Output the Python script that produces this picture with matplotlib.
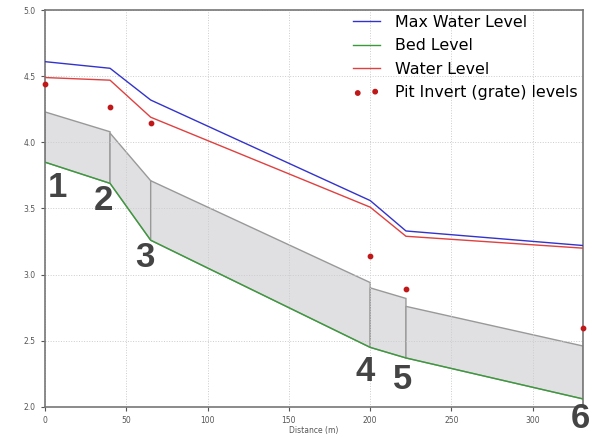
import numpy as np
import matplotlib.pyplot as plt

# Lengdeprofil: vannstand, bunn og rør mellom kummer
node_x = [0, 40, 65, 200, 222, 331]
node_lab = ["1", "2", "3", "4", "5", "6"]
max_wl = [4.61, 4.56, 4.32, 3.56, 3.33, 3.22]
wl = [4.49, 4.47, 4.19, 3.51, 3.29, 3.20]
bed = [3.85, 3.69, 3.26, 2.45, 2.37, 2.06]
pit = [4.44, 4.27, 4.15, 3.14, 2.89, 2.60]

# rørtopp (obvert) oppstrøms / nedstrøms for hvert strekk
top_us = [4.23, 4.07, 3.71, 2.90, 2.76]
top_ds = [4.08, 3.71, 2.94, 2.82, 2.46]

fig = plt.figure(figsize=(5.96, 4.38), dpi=100)
ax = fig.add_axes([0.0755, 0.071, 0.903, 0.906])

for i in range(len(top_us)):
    xs = [node_x[i], node_x[i + 1], node_x[i + 1], node_x[i]]
    ys = [bed[i], bed[i + 1], top_ds[i], top_us[i]]
    ax.fill(xs, ys, facecolor="#e0e0e3", edgecolor="#999999", lw=1.0, zorder=1)

ax.plot(node_x, max_wl, color="#3333cc", lw=1.0, label="Max Water Level", zorder=3)
ax.plot(node_x, bed, color="#3a9a3a", lw=1.0, label="Bed Level", zorder=3)
ax.plot(node_x, wl, color="#e04040", lw=1.0, label="Water Level", zorder=3)
ax.scatter(node_x, pit, s=10, color="#c01818", label="Pit Invert (grate) levels",
           zorder=4, clip_on=False)

# store nummer ved kummene
lab_pos = [(7.4, 3.66), (35.7, 3.56), (61.5, 3.13), (197, 2.27), (220, 2.21), (329, 1.91)]
for (lx, ly), t in zip(lab_pos, node_lab):
    ax.text(lx, ly, t, fontsize=25, fontweight="bold", color="#444444",
            family="Liberation Sans", ha="center", va="center", zorder=5,
            clip_on=False)

ax.set_xlim(0, 331)
ax.set_ylim(2.0, 5.0)
ax.set_xticks([0, 50, 100, 150, 200, 250, 300])
ax.set_yticks([2.0, 2.5, 3.0, 3.5, 4.0, 4.5, 5.0])
ax.set_yticklabels(["2.0", "2.5", "3.0", "3.5", "4.0", "4.5", "5.0"])
ax.tick_params(labelsize=5.5, colors="#555555", length=3)
ax.set_xlabel("Distance (m)", fontsize=5.5, color="#555555", labelpad=1)
ax.grid(True, ls=":", color="#cccccc", lw=0.7)
for s in ax.spines.values():
    s.set_color("#777777")
    s.set_linewidth(1.2)

fig.legend(*ax.get_legend_handles_labels(), loc="upper left",
           bbox_to_anchor=(353 / 596, 1 - 15 / 438), frameon=False,
           fontsize=11.4, scatterpoints=2, handlelength=1.7, handletextpad=0.95,
           labelspacing=0.53, borderpad=0, borderaxespad=0)

plt.savefig("out.png", dpi=100)
